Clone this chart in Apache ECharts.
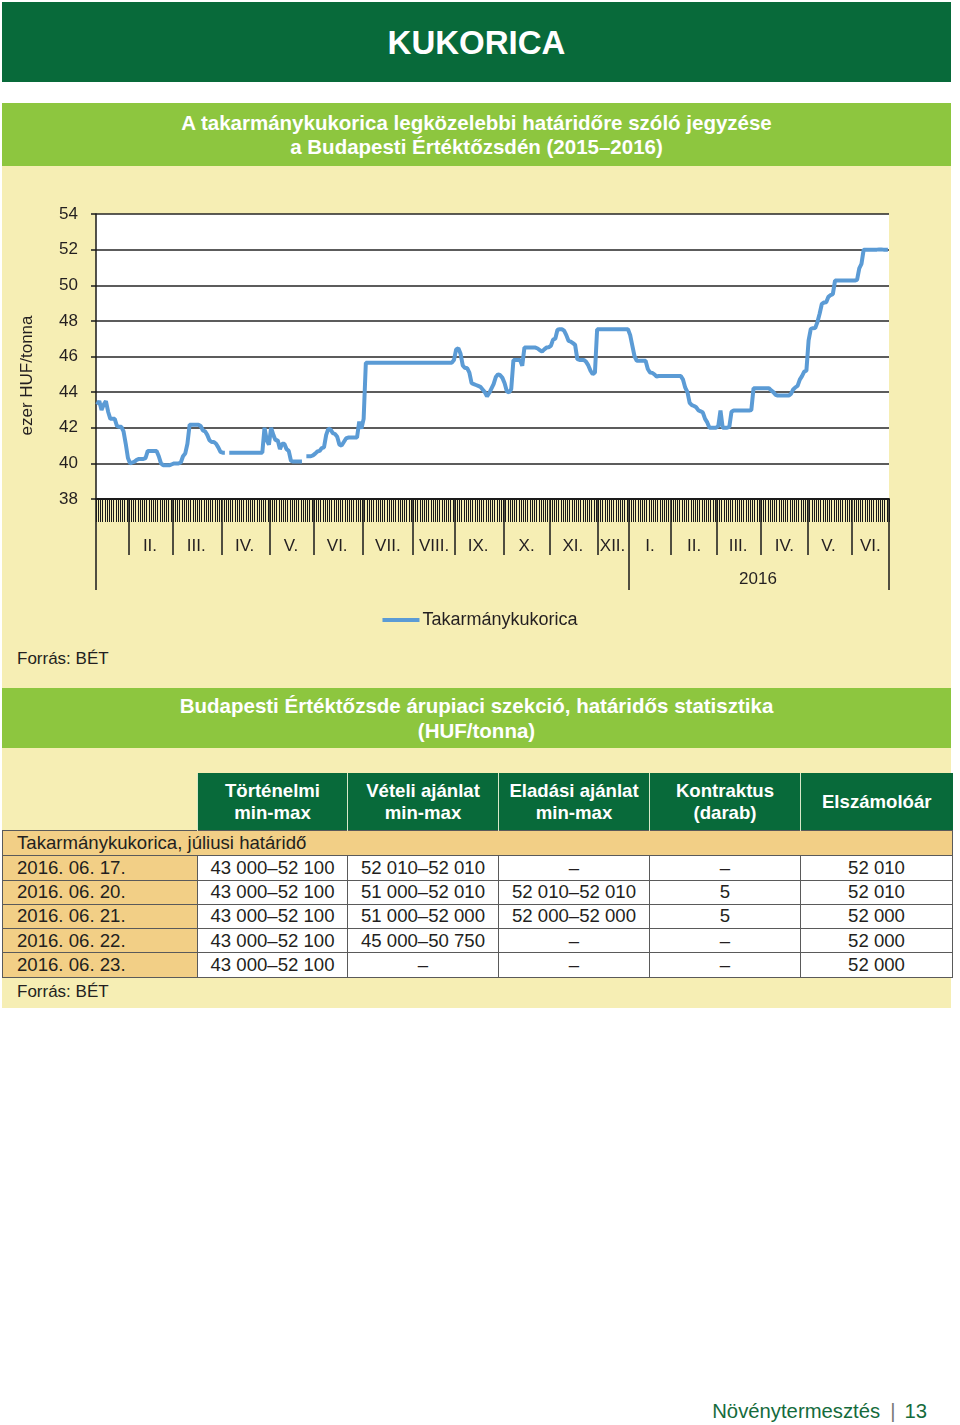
<!DOCTYPE html>
<html lang="hu">
<head>
<meta charset="utf-8">
<title>Kukorica</title>
<script src="https://cdn.jsdelivr.net/npm/echarts@6/dist/echarts.min.js"></script>
<style>
  html, body { margin: 0; padding: 0; background: #ffffff; }
  body { width: 960px; height: 1425px; position: relative; overflow: hidden;
         font-family: "Liberation Sans", Arial, Helvetica, sans-serif; color: #231f20; }
  .abs { position: absolute; }
  .dark { background: #086a3a; }
  .light { background: #8dc63f; }
  .pale { background: #f6eeb4; }
  .title { color: #fff; font-weight: bold; text-align: center; }
  #chart { position: absolute; left: 0; top: 0; width: 960px; height: 700px; z-index: 2; }
  table { border-collapse: collapse; table-layout: fixed; }
  th { background: #086a3a; color: #fff; font-weight: bold; font-size: 18.6px; line-height: 22px;
       height: 57px; padding: 0; text-align: center; border-left: 1px solid #d8e8c8; }
  th.blank { background: transparent; border: none; }
  td { font-size: 18.6px; height: 23.3px; padding: 0; line-height: 22.5px; text-align: center;
       border: 1.5px solid #5a5a5a; background: #fff; white-space: nowrap; }
  td.first { background: #f2cf86; text-align: left; padding-left: 14px; }
  td.group { background: #f2cf86; text-align: left; padding-left: 14px; padding-top: 1px; }
</style>
</head>
<body>
<div class="abs dark" style="left:2px;top:2px;width:949px;height:80px;"></div>
<div class="abs title" id="mainTitle" style="left:2px;top:22px;width:949px;font-size:33px;line-height:42px;"></div>

<div class="abs light" style="left:2px;top:103px;width:949px;height:63px;"></div>
<div class="abs title" id="chartTitle" style="left:2px;top:111px;width:949px;font-size:20.5px;line-height:24px;"></div>
<div class="abs pale" style="left:2px;top:166px;width:949px;height:522px;"></div>
<div class="abs" id="source1" style="left:17px;top:648px;font-size:17px;line-height:22px;"></div>

<div class="abs light" style="left:2px;top:688px;width:949px;height:60px;"></div>
<div class="abs title" id="tableTitle" style="left:2px;top:693px;width:949px;font-size:20.5px;line-height:25px;"></div>
<div class="abs pale" style="left:2px;top:748px;width:949px;height:260px;"></div>
<table id="tbl" class="abs" style="left:2px;top:773px;width:950px;"></table>
<div class="abs" id="source2" style="left:17px;top:981px;font-size:17px;line-height:22px;"></div>

<div class="abs" id="footer" style="left:600px;top:1398px;width:327px;text-align:right;font-size:20.3px;line-height:26px;color:#156b3c;"></div>

<div id="chart"></div>

<script>
// ---------- texts ----------
const mainTitle = 'KUKORICA';
const chartTitleLines = ['A takarmánykukorica legközelebbi határidőre szóló jegyzése', 'a Budapesti Értéktőzsdén (2015–2016)'];
const sourceText = 'Forrás: BÉT';
const tableTitleLines = ['Budapesti Értéktőzsde árupiaci szekció, határidős statisztika', '(HUF/tonna)'];
const footerText = 'Növénytermesztés';
const pageNumber = '13';
const yAxisName = 'ezer HUF/tonna';
const seriesName = 'Takarmánykukorica';

// ---------- chart data (ezer HUF/tonna, one value per trading day) ----------
const jan15 = [43.3, 43.5, 43.0, 43.3, 43.5, 42.9, 42.5, 42.5, 42.5, 42.1, 42.05, 42.05, 41.8, 41.1, 40.3];
const feb15 = [40.0, 40.05, 40.1, 40.2, 40.25, 40.25, 40.25, 40.3, 40.7, 40.7, 40.7, 40.7, 40.7, 40.4, 40.0, 39.9, 39.9, 39.9, 39.9, 39.95];
const mar15 = [40.0, 40.0, 40.0, 40.05, 40.4, 40.55, 41.1, 42.17, 42.17, 42.17, 42.17, 42.17, 42.1, 41.85, 41.8, 41.6, 41.3, 41.2, 41.2, 41.1, 40.9, 40.65];
const apr15 = [40.6, 40.6, null, 40.6, 40.6, 40.6, 40.6, 40.6, 40.6, 40.6, 40.6, 40.6, 40.6, 40.6, 40.6, 40.6, 40.6, 40.6, 40.6, 42.0, 41.3, 41.05];
const may15 = [42.0, 41.6, 41.3, 41.3, 40.8, 41.1, 41.1, 40.8, 40.7, 40.15, 40.1, 40.1, 40.1, 40.1, 40.1, null, 40.4, 40.4, 40.4, 40.45];
const jun15 = [40.55, 40.67, 40.7, 40.86, 40.9, 41.6, 41.95, 41.9, 41.7, 41.65, 41.5, 41.05, 41.0, 41.2, 41.4, 41.45, 41.45, 41.45, 41.45, 41.45, 42.35, 41.95];
const jul15 = [42.5, 45.65, 45.65, 45.65, 45.65, 45.65, 45.65, 45.65, 45.65, 45.65, 45.65, 45.65, 45.65, 45.65, 45.65, 45.65, 45.65, 45.65, 45.65, 45.65, 45.65, 45.65, 45.65];
const aug15 = [45.65, 45.65, 45.65, 45.65, 45.65, 45.65, 45.65, 45.65, 45.65, 45.65, 45.65, 45.65, 45.65, 45.65, 45.65, 45.65, 45.65, 45.65, 45.8];
const sep15 = [46.4, 46.47, 46.15, 45.5, 45.35, 45.35, 45.1, 44.5, 44.45, 44.4, 44.35, 44.3, 44.15, 44.0, 43.76, 43.95, 44.2, 44.45, 44.85, 45.0, 44.95, 44.8];
const oct15 = [44.5, 44.05, 43.98, 44.17, 45.8, 45.8, 45.8, 45.8, 45.48, 46.5, 46.5, 46.5, 46.5, 46.5, 46.5, 46.45, 46.35, 46.28, 46.4, 46.5, 46.52];
const nov15 = [46.6, 46.95, 47.0, 47.5, 47.53, 47.53, 47.45, 47.2, 46.88, 46.84, 46.75, 46.65, 45.85, 45.81, 45.81, 45.81, 45.7, 45.5, 45.2, 45.0, 45.1, 47.53];
const dec15 = [47.53, 47.53, 47.53, 47.53, 47.53, 47.53, 47.53, 47.53, 47.53, 47.53, 47.53, 47.53, 47.53, 47.53];
const jan16 = [47.2, 46.6, 46.0, 45.76, 45.76, 45.76, 45.76, 45.76, 45.3, 45.1, 45.08, 45.0, 44.88, 44.9, 44.9, 44.9, 44.9, 44.9, 44.9];
const feb16 = [44.9, 44.9, 44.9, 44.9, 44.9, 44.7, 44.25, 44.0, 43.4, 43.27, 43.22, 43.15, 42.97, 42.92, 42.85, 42.5, 42.3, 42.0, 42.0, 42.0, 42.0];
const mar16 = [42.1, 42.97, 42.0, 42.0, 42.0, 42.05, 42.9, 42.97, 42.97, 42.97, 42.97, 42.97, 42.97, 42.97, 42.97, 43.0, 44.22, 44.22, 44.22, 44.22];
const apr16 = [44.22, 44.22, 44.22, 44.22, 44.1, 44.0, 43.85, 43.81, 43.81, 43.81, 43.81, 43.81, 43.81, 43.9, 44.15, 44.27, 44.35, 44.7, 44.9, 45.15, 45.2];
const may16 = [46.9, 47.55, 47.59, 47.6, 47.93, 48.4, 48.95, 49.03, 49.05, 49.35, 49.45, 49.5, 50.26, 50.26, 50.26, 50.26, 50.26, 50.26, 50.26, 50.26];
const jun16 = [50.26, 50.26, 50.3, 50.95, 51.2, 52.0, 52.0, 52.0, 52.0, 52.0, 52.0, 52.0, 52.01, 52.01, 52.0, 52.0, 52.0];

const monthSeries = [jan15, feb15, mar15, apr15, may15, jun15, jul15, aug15, sep15, oct15, nov15, dec15,
                     jan16, feb16, mar16, apr16, may16, jun16];
const monthLabels = ['', 'II.', 'III.', 'IV.', 'V.', 'VI.', 'VII.', 'VIII.', 'IX.', 'X.', 'XI.', 'XII.',
                     'I.', 'II.', 'III.', 'IV.', 'V.', 'VI.'];
const yearLabel = '2016';
const yearStartMonth = 12;

const yMin = 38, yMax = 54, yStep = 2;

// ---------- table data ----------
const tableHeaders = [['Történelmi', 'min-max'], ['Vételi ajánlat', 'min-max'], ['Eladási ajánlat', 'min-max'], ['Kontraktus', '(darab)'], ['Elszámolóár']];
const tableGroup = 'Takarmánykukorica, júliusi határidő';
const tableDates = ['2016. 06. 17.', '2016. 06. 20.', '2016. 06. 21.', '2016. 06. 22.', '2016. 06. 23.'];
const colHistory = ['43 000–52 100', '43 000–52 100', '43 000–52 100', '43 000–52 100', '43 000–52 100'];
const colBid = ['52 010–52 010', '51 000–52 010', '51 000–52 000', '45 000–50 750', '–'];
const colAsk = ['–', '52 010–52 010', '52 000–52 000', '–', '–'];
const colContracts = ['–', '5', '5', '–', '–'];
const colSettlement = ['52 010', '52 010', '52 000', '52 000', '52 000'];

// ---------- page texts ----------
document.getElementById('mainTitle').textContent = mainTitle;
document.getElementById('chartTitle').innerHTML = chartTitleLines.join('<br>');
document.getElementById('tableTitle').innerHTML = tableTitleLines.join('<br>');
document.getElementById('source1').textContent = sourceText;
document.getElementById('source2').textContent = sourceText;
document.getElementById('footer').innerHTML = footerText + '<span style="color:#777;margin:0 9px 0 10px;">|</span>' + pageNumber;

// ---------- table ----------
(function buildTable() {
  const widths = [195, 150, 151, 151, 151, 152];
  const tbl = document.getElementById('tbl');
  let html = '<colgroup>' + widths.map(w => '<col style="width:' + w + 'px">').join('') + '</colgroup>';
  html += '<tr><th class="blank"></th>' + tableHeaders.map(h => '<th>' + h.join('<br>') + '</th>').join('') + '</tr>';
  html += '<tr><td class="group" colspan="6">' + tableGroup + '</td></tr>';
  tableDates.forEach((d, i) => {
    html += '<tr><td class="first">' + d + '</td><td>' + colHistory[i] + '</td><td>' + colBid[i] +
            '</td><td>' + colAsk[i] + '</td><td>' + colContracts[i] + '</td><td>' + colSettlement[i] + '</td></tr>';
  });
  tbl.innerHTML = html;
})();

// ---------- chart ----------
const categories = [];
const values = [];
const monthStarts = new Set();
const monthLabelAt = {};
let yearStartIdx = 0, yearEndIdx = 0;
monthSeries.forEach((arr, m) => {
  const start = categories.length;
  monthStarts.add(start);
  if (m === yearStartMonth) yearStartIdx = start;
  monthLabelAt[start + Math.floor((arr.length - 1) / 2)] = monthLabels[m];
  arr.forEach((v, k) => { categories.push('m' + m + 'd' + k); values.push(v); });
});
yearEndIdx = categories.length;
const yearLabelIdx = yearStartIdx + Math.floor((yearEndIdx - yearStartIdx - 1) / 2);
const catIndex = {};
categories.forEach((c, i) => { catIndex[c] = i; });

const FONT = '"Liberation Sans", Arial, Helvetica, sans-serif';
const INK = '#1a1a1a';
const TXT = '#231f20';
const LINE = '#5b9bd5';

const chart = echarts.init(document.getElementById('chart'), null, { renderer: 'canvas' });
chart.setOption({
  animation: false,
  backgroundColor: 'transparent',
  textStyle: { fontFamily: FONT },
  grid: { left: 96, top: 214, width: 793, height: 285, show: true, backgroundColor: '#ffffff', borderWidth: 0, containLabel: false },
  legend: {
    data: [{ name: seriesName, icon: 'rect' }], top: 606, left: 'center', itemWidth: 37, itemHeight: 4, itemGap: 10,
    itemStyle: { color: LINE },
    textStyle: { fontSize: 18, color: TXT, fontFamily: FONT, padding: [0, 0, 0, -2] }
  },
  xAxis: [
    {
      type: 'category', data: categories, boundaryGap: true, position: 'bottom',
      axisLine: { show: true, lineStyle: { color: INK, width: 2 } },
      axisTick: { show: true, interval: 0, length: 23, lineStyle: { color: INK, width: 1 } },
      axisLabel: { show: false }, splitLine: { show: false }
    },
    {
      type: 'category', data: categories, boundaryGap: true, position: 'bottom', offset: 0,
      axisLine: { show: false },
      axisTick: { show: true, interval: (i) => monthStarts.has(i), length: 56, lineStyle: { color: INK, width: 1.5 } },
      axisLabel: {
        show: true, interval: (i) => monthLabelAt[i] !== undefined && monthLabelAt[i] !== '',
        formatter: (v) => monthLabelAt[catIndex[v]] || '',
        margin: 39, fontSize: 17, color: TXT, fontFamily: FONT
      },
      splitLine: { show: false }
    },
    {
      type: 'category', data: categories, boundaryGap: true, position: 'bottom', offset: 0,
      axisLine: { show: false },
      axisTick: { show: true, interval: (i) => i === 0 || i === yearStartIdx, length: 91, lineStyle: { color: INK, width: 1.5 } },
      axisLabel: {
        show: true, interval: (i) => i === yearLabelIdx,
        formatter: () => yearLabel, margin: 72, fontSize: 17, color: TXT, fontFamily: FONT
      },
      splitLine: { show: false }
    }
  ],
  yAxis: {
    type: 'value', min: yMin, max: yMax, interval: yStep,
    name: yAxisName, nameLocation: 'middle', nameGap: 60,
    nameTextStyle: { fontSize: 17, color: TXT, fontFamily: FONT, padding: [0, 38, 0, 0] },
    axisLine: { show: true, lineStyle: { color: INK, width: 1.5 } },
    axisTick: { show: true, length: 5, lineStyle: { color: INK, width: 1.5 } },
    axisLabel: { fontSize: 17, color: TXT, margin: 18, fontFamily: FONT },
    splitLine: { show: true, lineStyle: { color: '#262626', width: 1.5 } }
  },
  series: [{
    name: seriesName, type: 'line', xAxisIndex: 0, yAxisIndex: 0, data: values,
    symbol: 'none', showSymbol: false, connectNulls: false,
    lineStyle: { color: LINE, width: 4 }, itemStyle: { color: LINE }
  }]
});
</script>
</body>
</html>
